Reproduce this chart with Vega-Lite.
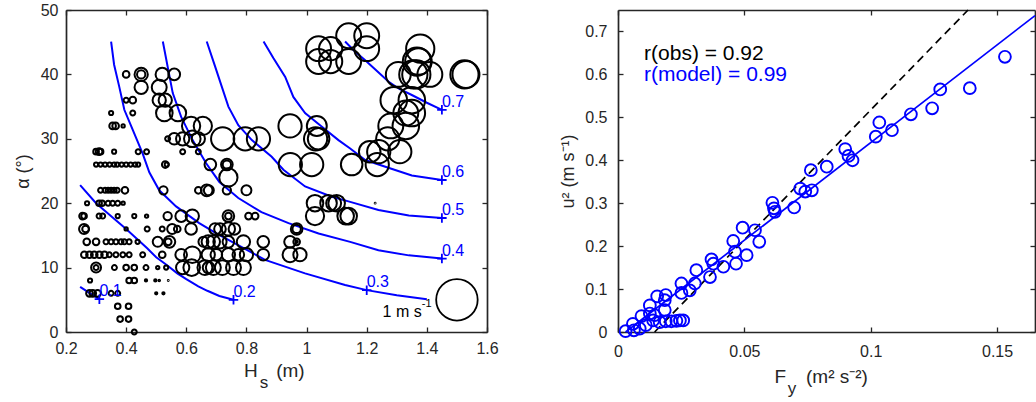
{
  "$schema": "https://vega.github.io/schema/vega-lite/v6.json",
  "autosize": {"type": "pad"},
  "padding": {"left": 14, "top": 2, "right": 0, "bottom": 0},
  "bounds": "flush",
  "spacing": 131,
  "config": {
    "font": "Liberation Sans",
    "view": {"stroke": null},
    "axis": {
      "grid": false,
      "domainColor": "#262626",
      "domainWidth": 1.7,
      "tickColor": "#262626",
      "tickWidth": 1.3,
      "tickSize": -5,
      "labelColor": "#262626",
      "labelFont": "Liberation Sans",
      "labelFontSize": 16,
      "labelPadding": 13,
      "labelFlush": false,
      "labelOverlap": false,
      "titleFont": "Liberation Sans",
      "titleFontSize": 18,
      "titleFontWeight": "normal",
      "titleColor": "#262626"
    }
  },
  "datasets": {
    "obs": [
      {"h":1.14,"a":46,"u":0.60},{"h":1.2,"a":46,"u":0.60},
      {"h":1.04,"a":44,"u":0.60},{"h":1.08,"a":44,"u":0.56},{"h":1.2,"a":44,"u":0.60},{"h":1.378,"a":44,"u":0.68},
      {"h":1.04,"a":42,"u":0.60},{"h":1.08,"a":42,"u":0.56},{"h":1.14,"a":42,"u":0.60},{"h":1.367,"a":42,"u":0.68},{"h":1.372,"a":42,"u":0.64},
      {"h":0.40,"a":40,"u":0.16},{"h":0.45,"a":40,"u":0.32},{"h":0.45,"a":40,"u":0.20},{"h":0.52,"a":40,"u":0.32},{"h":0.56,"a":40,"u":0.28},{"h":1.305,"a":40,"u":0.60},{"h":1.355,"a":40,"u":0.68},{"h":1.365,"a":40,"u":0.68},{"h":1.41,"a":40,"u":0.60},{"h":1.525,"a":40,"u":0.68},{"h":1.53,"a":40,"u":0.65},
      {"h":0.45,"a":38,"u":0.32},{"h":0.51,"a":38,"u":0.36},
      {"h":0.40,"a":36,"u":0.12},{"h":0.422,"a":36,"u":0.16},{"h":0.51,"a":36,"u":0.32},{"h":0.53,"a":36,"u":0.32},{"h":1.29,"a":36,"u":0.64},{"h":1.35,"a":36,"u":0.64},
      {"h":0.35,"a":34,"u":0.10},{"h":0.422,"a":34,"u":0.12},{"h":0.527,"a":34,"u":0.40},{"h":0.572,"a":34,"u":0.40},{"h":1.33,"a":34,"u":0.60},{"h":1.35,"a":34,"u":0.64},
      {"h":0.355,"a":32,"u":0.16},{"h":0.365,"a":32,"u":0.16},{"h":0.39,"a":32,"u":0.08},{"h":0.616,"a":32,"u":0.44},{"h":0.655,"a":32,"u":0.44},{"h":0.945,"a":32,"u":0.56},{"h":1.034,"a":32,"u":0.48},{"h":1.28,"a":32,"u":0.60},{"h":1.33,"a":32,"u":0.64},
      {"h":0.538,"a":30,"u":0.12},{"h":0.56,"a":30,"u":0.28},{"h":0.588,"a":30,"u":0.32},{"h":0.62,"a":30,"u":0.40},{"h":0.64,"a":30,"u":0.32},{"h":0.721,"a":30,"u":0.56},{"h":0.796,"a":30,"u":0.56},{"h":0.84,"a":30,"u":0.56},{"h":1.03,"a":30,"u":0.56},{"h":1.04,"a":30,"u":0.52},{"h":1.27,"a":30,"u":0.56},
      {"h":0.30,"a":28,"u":0.136},{"h":0.31,"a":28,"u":0.16},{"h":0.315,"a":28,"u":0.136},{"h":0.36,"a":28,"u":0.10},{"h":0.44,"a":28,"u":0.12},{"h":0.468,"a":28,"u":0.12},{"h":0.588,"a":28,"u":0.12},{"h":0.64,"a":28,"u":0.12},{"h":1.21,"a":28,"u":0.52},{"h":1.24,"a":28,"u":0.56},{"h":1.31,"a":28,"u":0.56},
      {"h":0.30,"a":26,"u":0.10},{"h":0.315,"a":26,"u":0.10},{"h":0.33,"a":26,"u":0.10},{"h":0.345,"a":26,"u":0.10},{"h":0.36,"a":26,"u":0.10},{"h":0.37,"a":26,"u":0.10},{"h":0.385,"a":26,"u":0.10},{"h":0.40,"a":26,"u":0.10},{"h":0.415,"a":26,"u":0.10},{"h":0.43,"a":26,"u":0.10},{"h":0.44,"a":26,"u":0.10},{"h":0.53,"a":26,"u":0.16},{"h":0.535,"a":26,"u":0.10},{"h":0.68,"a":26,"u":0.28},{"h":0.735,"a":26,"u":0.28},{"h":0.735,"a":26,"u":0.20},{"h":0.946,"a":26,"u":0.56},{"h":1.017,"a":26,"u":0.56},{"h":1.15,"a":26,"u":0.52},{"h":1.235,"a":26,"u":0.56},
      {"h":0.74,"a":24,"u":0.44},
      {"h":0.315,"a":22,"u":0.12},{"h":0.33,"a":22,"u":0.12},{"h":0.34,"a":22,"u":0.12},{"h":0.35,"a":22,"u":0.12},{"h":0.36,"a":22,"u":0.12},{"h":0.37,"a":22,"u":0.12},{"h":0.396,"a":22,"u":0.16},{"h":0.524,"a":22,"u":0.20},{"h":0.64,"a":22,"u":0.16},{"h":0.668,"a":22,"u":0.28},{"h":0.675,"a":22,"u":0.24},{"h":0.735,"a":22,"u":0.20},{"h":0.80,"a":22,"u":0.24},
      {"h":0.27,"a":20,"u":0.10},{"h":0.31,"a":20,"u":0.136},{"h":0.32,"a":20,"u":0.136},{"h":0.34,"a":20,"u":0.12},{"h":0.355,"a":20,"u":0.12},{"h":0.372,"a":20,"u":0.12},{"h":0.39,"a":20,"u":0.08},{"h":1.028,"a":20,"u":0.40},{"h":1.073,"a":20,"u":0.40},{"h":1.1,"a":20,"u":0.40},{"h":1.09,"a":20,"u":0.36},{"h":1.228,"a":20,"u":0.02},
      {"h":0.255,"a":18,"u":0.16},{"h":0.26,"a":18,"u":0.136},{"h":0.31,"a":18,"u":0.12},{"h":0.322,"a":18,"u":0.12},{"h":0.372,"a":18,"u":0.10},{"h":0.427,"a":18,"u":0.10},{"h":0.468,"a":18,"u":0.08},{"h":0.538,"a":18,"u":0.20},{"h":0.583,"a":18,"u":0.28},{"h":0.62,"a":18,"u":0.32},{"h":0.74,"a":18,"u":0.28},{"h":0.74,"a":18,"u":0.16},{"h":0.807,"a":18,"u":0.16},{"h":0.829,"a":18,"u":0.16},{"h":1.028,"a":18,"u":0.44},{"h":1.13,"a":18,"u":0.40},{"h":1.14,"a":18,"u":0.40},
      {"h":0.26,"a":16,"u":0.24},{"h":0.265,"a":16,"u":0.16},{"h":0.40,"a":16,"u":0.08},{"h":0.47,"a":16,"u":0.12},{"h":0.52,"a":16,"u":0.12},{"h":0.553,"a":16,"u":0.24},{"h":0.57,"a":16,"u":0.16},{"h":0.616,"a":16,"u":0.28},{"h":0.696,"a":16,"u":0.28},{"h":0.712,"a":16,"u":0.28},{"h":0.74,"a":16,"u":0.32},{"h":0.76,"a":16,"u":0.28},{"h":0.967,"a":16,"u":0.28},{"h":0.967,"a":16,"u":0.20},
      {"h":0.269,"a":14,"u":0.16},{"h":0.30,"a":14,"u":0.16},{"h":0.333,"a":14,"u":0.12},{"h":0.35,"a":14,"u":0.12},{"h":0.366,"a":14,"u":0.12},{"h":0.383,"a":14,"u":0.12},{"h":0.394,"a":14,"u":0.12},{"h":0.41,"a":14,"u":0.12},{"h":0.438,"a":14,"u":0.10},{"h":0.505,"a":14,"u":0.24},{"h":0.544,"a":14,"u":0.28},{"h":0.54,"a":14,"u":0.16},{"h":0.657,"a":14,"u":0.24},{"h":0.673,"a":14,"u":0.32},{"h":0.69,"a":14,"u":0.32},{"h":0.712,"a":14,"u":0.32},{"h":0.74,"a":14,"u":0.28},{"h":0.79,"a":14,"u":0.32},{"h":0.856,"a":14,"u":0.28},{"h":0.945,"a":14,"u":0.28},{"h":0.967,"a":14,"u":0.16},{"h":0.967,"a":14,"u":0.055},
      {"h":0.261,"a":12,"u":0.16},{"h":0.278,"a":12,"u":0.16},{"h":0.294,"a":12,"u":0.16},{"h":0.311,"a":12,"u":0.16},{"h":0.328,"a":12,"u":0.16},{"h":0.344,"a":12,"u":0.12},{"h":0.366,"a":12,"u":0.12},{"h":0.389,"a":12,"u":0.12},{"h":0.41,"a":12,"u":0.12},{"h":0.455,"a":12,"u":0.12},{"h":0.52,"a":12,"u":0.16},{"h":0.583,"a":12,"u":0.28},{"h":0.62,"a":12,"u":0.40},{"h":0.673,"a":12,"u":0.32},{"h":0.70,"a":12,"u":0.28},{"h":0.74,"a":12,"u":0.32},{"h":0.773,"a":12,"u":0.28},{"h":0.80,"a":12,"u":0.32},{"h":0.856,"a":12,"u":0.28},{"h":0.945,"a":12,"u":0.36},{"h":0.978,"a":12,"u":0.32},
      {"h":0.30,"a":10,"u":0.24},{"h":0.30,"a":10,"u":0.12},{"h":0.361,"a":10,"u":0.12},{"h":0.40,"a":10,"u":0.136},{"h":0.427,"a":10,"u":0.136},{"h":0.466,"a":10,"u":0.12},{"h":0.505,"a":10,"u":0.08},{"h":0.533,"a":10,"u":0.10},{"h":0.588,"a":10,"u":0.32},{"h":0.618,"a":10,"u":0.40},{"h":0.662,"a":10,"u":0.36},{"h":0.674,"a":10,"u":0.28},{"h":0.69,"a":10,"u":0.36},{"h":0.72,"a":10,"u":0.36},{"h":0.757,"a":10,"u":0.36},{"h":0.79,"a":10,"u":0.36},
      {"h":0.28,"a":8,"u":0.10},{"h":0.41,"a":8,"u":0.136},{"h":0.427,"a":8,"u":0.136},{"h":0.466,"a":8,"u":0.055},{"h":0.497,"a":8,"u":0.055},{"h":0.51,"a":8,"u":0.04},{"h":0.54,"a":8,"u":0.02},
      {"h":0.278,"a":6,"u":0.16},{"h":0.289,"a":6,"u":0.16},{"h":0.305,"a":6,"u":0.16},{"h":0.35,"a":6,"u":0.12},{"h":0.372,"a":6,"u":0.12},{"h":0.50,"a":6,"u":0.055},{"h":0.524,"a":6,"u":0.055},
      {"h":0.372,"a":4,"u":0.136},{"h":0.408,"a":4,"u":0.136},
      {"h":0.38,"a":2,"u":0.136},{"h":0.408,"a":2,"u":0.136},
      {"h":0.427,"a":0,"u":0.12}
    ],
    "contours": [
      {"lvl":"0.1","h":0.247,"a":7.0},{"lvl":"0.1","h":0.28,"a":6.0},{"lvl":"0.1","h":0.311,"a":5.1},
      {"lvl":"0.2","h":0.247,"a":22.8},{"lvl":"0.2","h":0.30,"a":20.0},{"lvl":"0.2","h":0.33,"a":18.8},{"lvl":"0.2","h":0.36,"a":17.6},{"lvl":"0.2","h":0.40,"a":16.0},{"lvl":"0.2","h":0.44,"a":14.3},{"lvl":"0.2","h":0.47,"a":13.0},{"lvl":"0.2","h":0.50,"a":11.6},{"lvl":"0.2","h":0.535,"a":10.4},{"lvl":"0.2","h":0.57,"a":9.1},{"lvl":"0.2","h":0.60,"a":8.2},{"lvl":"0.2","h":0.64,"a":7.1},{"lvl":"0.2","h":0.67,"a":6.4},{"lvl":"0.2","h":0.71,"a":5.6},{"lvl":"0.2","h":0.757,"a":5.0},
      {"lvl":"0.3","h":0.35,"a":45.1},{"lvl":"0.3","h":0.36,"a":41.5},{"lvl":"0.3","h":0.377,"a":38.1},{"lvl":"0.3","h":0.394,"a":34.5},{"lvl":"0.3","h":0.422,"a":31.4},{"lvl":"0.3","h":0.455,"a":27.7},{"lvl":"0.3","h":0.477,"a":24.8},{"lvl":"0.3","h":0.51,"a":22.0},{"lvl":"0.3","h":0.566,"a":19.5},{"lvl":"0.3","h":0.643,"a":16.9},{"lvl":"0.3","h":0.70,"a":15.3},{"lvl":"0.3","h":0.78,"a":13.3},{"lvl":"0.3","h":0.862,"a":11.2},{"lvl":"0.3","h":0.995,"a":9.1},{"lvl":"0.3","h":1.128,"a":7.3},{"lvl":"0.3","h":1.2,"a":6.5},{"lvl":"0.3","h":1.30,"a":5.7},{"lvl":"0.3","h":1.40,"a":5.1},
      {"lvl":"0.4","h":0.522,"a":45.1},{"lvl":"0.4","h":0.538,"a":41.2},{"lvl":"0.4","h":0.555,"a":37.1},{"lvl":"0.4","h":0.583,"a":33.4},{"lvl":"0.4","h":0.621,"a":29.8},{"lvl":"0.4","h":0.666,"a":26.2},{"lvl":"0.4","h":0.71,"a":23.3},{"lvl":"0.4","h":0.773,"a":20.8},{"lvl":"0.4","h":0.85,"a":18.6},{"lvl":"0.4","h":0.94,"a":16.9},{"lvl":"0.4","h":1.04,"a":15.3},{"lvl":"0.4","h":1.145,"a":14.0},{"lvl":"0.4","h":1.239,"a":12.7},{"lvl":"0.4","h":1.34,"a":11.9},{"lvl":"0.4","h":1.45,"a":11.4},
      {"lvl":"0.5","h":0.668,"a":45.1},{"lvl":"0.5","h":0.696,"a":41.2},{"lvl":"0.5","h":0.718,"a":38.1},{"lvl":"0.5","h":0.74,"a":35.0},{"lvl":"0.5","h":0.773,"a":32.1},{"lvl":"0.5","h":0.818,"a":29.8},{"lvl":"0.5","h":0.884,"a":27.2},{"lvl":"0.5","h":0.923,"a":25.2},{"lvl":"0.5","h":0.995,"a":22.6},{"lvl":"0.5","h":1.084,"a":21.0},{"lvl":"0.5","h":1.145,"a":20.2},{"lvl":"0.5","h":1.239,"a":18.95},{"lvl":"0.5","h":1.34,"a":18.1},{"lvl":"0.5","h":1.45,"a":17.7},
      {"lvl":"0.6","h":0.857,"a":45.1},{"lvl":"0.6","h":0.89,"a":42.5},{"lvl":"0.6","h":0.929,"a":39.6},{"lvl":"0.6","h":0.956,"a":36.5},{"lvl":"0.6","h":0.995,"a":34.0},{"lvl":"0.6","h":1.05,"a":31.9},{"lvl":"0.6","h":1.106,"a":29.8},{"lvl":"0.6","h":1.145,"a":28.5},{"lvl":"0.6","h":1.195,"a":26.7},{"lvl":"0.6","h":1.272,"a":25.5},{"lvl":"0.6","h":1.35,"a":24.3},{"lvl":"0.6","h":1.45,"a":23.6},
      {"lvl":"0.7","h":1.128,"a":45.1},{"lvl":"0.7","h":1.16,"a":43.6},{"lvl":"0.7","h":1.195,"a":42.2},{"lvl":"0.7","h":1.235,"a":40.5},{"lvl":"0.7","h":1.272,"a":38.9},{"lvl":"0.7","h":1.31,"a":37.7},{"lvl":"0.7","h":1.35,"a":36.8},{"lvl":"0.7","h":1.40,"a":35.6},{"lvl":"0.7","h":1.45,"a":34.5}
    ],
    "clabels": [
      {"lvl":"0.1","h":0.311,"a":5.1},
      {"lvl":"0.2","h":0.757,"a":5.0},
      {"lvl":"0.3","h":1.2,"a":6.5},
      {"lvl":"0.4","h":1.45,"a":11.4},
      {"lvl":"0.5","h":1.45,"a":17.7},
      {"lvl":"0.6","h":1.45,"a":23.6},
      {"lvl":"0.7","h":1.45,"a":34.5}
    ],
    "pts": [
      {"f":0.0030,"u2":0.002},{"f":0.0059,"u2":0.019},{"f":0.0063,"u2":0.004},{"f":0.0086,"u2":0.008},{"f":0.0093,"u2":0.037},{"f":0.011,"u2":0.016},
      {"f":0.0126,"u2":0.062},{"f":0.0126,"u2":0.043},{"f":0.0139,"u2":0.027},{"f":0.0145,"u2":0.039},{"f":0.0155,"u2":0.083},{"f":0.0165,"u2":0.023},
      {"f":0.0185,"u2":0.051},{"f":0.0189,"u2":0.086},{"f":0.0185,"u2":0.074},{"f":0.0189,"u2":0.025},{"f":0.0211,"u2":0.025},{"f":0.0231,"u2":0.026},
      {"f":0.0245,"u2":0.027},{"f":0.0258,"u2":0.027},{"f":0.0251,"u2":0.113},{"f":0.0251,"u2":0.091},{"f":0.0284,"u2":0.097},{"f":0.031,"u2":0.144},
      {"f":0.0304,"u2":0.113},{"f":0.0364,"u2":0.128},{"f":0.0370,"u2":0.169},{"f":0.0377,"u2":0.159},{"f":0.0417,"u2":0.152},{"f":0.0456,"u2":0.212},
      {"f":0.0463,"u2":0.187},{"f":0.0467,"u2":0.159},{"f":0.0493,"u2":0.243},{"f":0.0509,"u2":0.179},{"f":0.0542,"u2":0.237},{"f":0.0559,"u2":0.210},
      {"f":0.0611,"u2":0.301},{"f":0.0617,"u2":0.288},{"f":0.0621,"u2":0.280},{"f":0.0697,"u2":0.290},{"f":0.0721,"u2":0.334},{"f":0.0741,"u2":0.327},
      {"f":0.0767,"u2":0.330},{"f":0.0763,"u2":0.377},{"f":0.0826,"u2":0.385},{"f":0.0899,"u2":0.426},{"f":0.0912,"u2":0.410},{"f":0.0928,"u2":0.400},
      {"f":0.102,"u2":0.455},{"f":0.1034,"u2":0.488},{"f":0.1084,"u2":0.470},{"f":0.1159,"u2":0.507},{"f":0.1243,"u2":0.521},{"f":0.1275,"u2":0.565},
      {"f":0.1392,"u2":0.568},{"f":0.1531,"u2":0.641}
    ],
    "fit": [{"f":0.003,"u2":0.0},{"f":0.165,"u2":0.737}],
    "oneone": [{"f":0.0145,"u2":0.0},{"f":0.1385,"u2":0.75}]
  },
  "hconcat": [
    {
      "width": 421,
      "height": 322,
      "layer": [
        {
          "layer": [
            {
              "data": {"name": "contours"},
              "mark": {"type": "line", "color": "#0000ff", "strokeWidth": 2},
              "encoding": {
                "x": {"field": "h", "type": "quantitative", "scale": {"domain": [0.2, 1.6], "nice": false, "zero": false},
                      "axis": {"orient": "bottom", "title": null, "values": [0.2,0.4,0.6,0.8,1,1.2,1.4,1.6], "format": "~g"}},
                "y": {"field": "a", "type": "quantitative", "scale": {"domain": [0, 50], "nice": false},
                      "axis": {"orient": "left", "title": "α (°)", "values": [0,10,20,30,40,50], "titlePadding": 8}},
                "detail": {"field": "lvl"}
              }
            },
            {
              "data": {"name": "obs"},
              "mark": {"type": "point", "shape": "circle", "filled": false, "stroke": "#000000", "strokeWidth": 2, "opacity": 1},
              "encoding": {
                "x": {"field": "h", "type": "quantitative"},
                "y": {"field": "a", "type": "quantitative"},
                "size": {"field": "u", "type": "quantitative", "scale": {"type": "pow", "exponent": 2, "domain": [0, 1], "range": [0, 1722]}, "legend": null}
              }
            },
            {
              "data": {"values": [{"u": 1}]},
              "mark": {"type": "point", "shape": "circle", "filled": false, "stroke": "#000000", "strokeWidth": 1.8, "opacity": 1},
              "encoding": {
                "x": {"datum": 1.5},
                "y": {"datum": 5.0},
                "size": {"field": "u", "type": "quantitative"}
              }
            },
            {
              "data": {"name": "clabels"},
              "mark": {"type": "point", "shape": "M-1,0H1M0,-1V1", "filled": false, "stroke": "#0000ff", "strokeWidth": 1.8, "size": 90, "opacity": 1},
              "encoding": {
                "x": {"field": "h", "type": "quantitative"},
                "y": {"field": "a", "type": "quantitative"}
              }
            },
            {
              "data": {"name": "clabels"},
              "mark": {"type": "text", "color": "#0000ff", "fontSize": 16, "align": "left", "baseline": "alphabetic", "dx": 0, "dy": -3},
              "encoding": {
                "x": {"field": "h", "type": "quantitative"},
                "y": {"field": "a", "type": "quantitative"},
                "text": {"field": "lvl"}
              }
            },
            {
              "data": {"values": [{"t": "1 m s"}]},
              "mark": {"type": "text", "color": "#000000", "fontSize": 16, "align": "right", "baseline": "alphabetic"},
              "encoding": {"x": {"datum": 1.383}, "y": {"datum": 2.3}, "text": {"field": "t"}}
            },
            {
              "data": {"values": [{"t": "-1"}]},
              "mark": {"type": "text", "color": "#000000", "fontSize": 11, "align": "left", "baseline": "alphabetic"},
              "encoding": {"x": {"datum": 1.383}, "y": {"datum": 3.9}, "text": {"field": "t"}}
            },
            {
              "data": {"values": [{"t": "H"}]},
              "mark": {"type": "text", "color": "#262626", "fontSize": 19, "align": "right", "baseline": "alphabetic"},
              "encoding": {"x": {"datum": 0.838}, "y": {"datum": -7.0}, "text": {"field": "t"}}
            },
            {
              "data": {"values": [{"t": "s"}]},
              "mark": {"type": "text", "color": "#262626", "fontSize": 17, "align": "left", "baseline": "alphabetic"},
              "encoding": {"x": {"datum": 0.844}, "y": {"datum": -8.7}, "text": {"field": "t"}}
            },
            {
              "data": {"values": [{"t": "(m)"}]},
              "mark": {"type": "text", "color": "#262626", "fontSize": 19, "align": "left", "baseline": "alphabetic"},
              "encoding": {"x": {"datum": 0.899}, "y": {"datum": -7.0}, "text": {"field": "t"}}
            }
          ]
        },
        {
          "data": {"values": [{"h": 1.0, "a": 25}]},
          "mark": {"type": "point", "opacity": 0},
          "encoding": {
            "x": {"field": "h", "type": "quantitative", "scale": {"domain": [0.2, 1.6], "nice": false, "zero": false},
                  "axis": {"orient": "top", "title": null, "labels": false, "values": [0.2,0.4,0.6,0.8,1,1.2,1.4,1.6]}},
            "y": {"field": "a", "type": "quantitative", "scale": {"domain": [0, 50], "nice": false},
                  "axis": {"orient": "right", "title": null, "labels": false, "values": [0,10,20,30,40,50]}}
          }
        }
      ],
      "resolve": {"axis": {"x": "independent", "y": "independent"}}
    },
    {
      "width": 417,
      "height": 322,
      "layer": [
        {
          "layer": [
            {
              "data": {"name": "oneone"},
              "mark": {"type": "line", "color": "#000000", "strokeWidth": 1.7, "strokeDash": [8, 5]},
              "encoding": {
                "x": {"field": "f", "type": "quantitative", "scale": {"domain": [0, 0.165], "nice": false},
                      "axis": {"orient": "bottom", "title": null, "values": [0, 0.05, 0.1, 0.15], "format": "~g", "labelPadding": 16}},
                "y": {"field": "u2", "type": "quantitative", "scale": {"domain": [0, 0.75], "nice": false},
                      "axis": {"orient": "left", "title": "u² (m s⁻¹)", "values": [0,0.1,0.2,0.3,0.4,0.5,0.6,0.7], "format": "~g", "labelPadding": 16, "titlePadding": 7}}
              }
            },
            {
              "data": {"name": "fit"},
              "mark": {"type": "line", "color": "#0000ff", "strokeWidth": 1.7},
              "encoding": {
                "x": {"field": "f", "type": "quantitative"},
                "y": {"field": "u2", "type": "quantitative"}
              }
            },
            {
              "data": {"name": "pts"},
              "mark": {"type": "point", "shape": "circle", "filled": false, "stroke": "#0000ff", "strokeWidth": 1.9, "size": 140, "opacity": 1},
              "encoding": {
                "x": {"field": "f", "type": "quantitative"},
                "y": {"field": "u2", "type": "quantitative"}
              }
            },
            {
              "data": {"values": [{"t": "r(obs) = 0.92"}]},
              "mark": {"type": "text", "color": "#000000", "fontSize": 21, "align": "left", "baseline": "alphabetic"},
              "encoding": {"x": {"datum": 0.0103}, "y": {"datum": 0.634}, "text": {"field": "t"}}
            },
            {
              "data": {"values": [{"t": "r(model) = 0.99"}]},
              "mark": {"type": "text", "color": "#0000ff", "fontSize": 21, "align": "left", "baseline": "alphabetic"},
              "encoding": {"x": {"datum": 0.0103}, "y": {"datum": 0.584}, "text": {"field": "t"}}
            },
            {
              "data": {"values": [{"t": "F"}]},
              "mark": {"type": "text", "color": "#262626", "fontSize": 19, "align": "right", "baseline": "alphabetic"},
              "encoding": {"x": {"datum": 0.0665}, "y": {"datum": -0.1196}, "text": {"field": "t"}}
            },
            {
              "data": {"values": [{"t": "y"}]},
              "mark": {"type": "text", "color": "#262626", "fontSize": 17, "align": "left", "baseline": "alphabetic"},
              "encoding": {"x": {"datum": 0.0672}, "y": {"datum": -0.1452}, "text": {"field": "t"}}
            },
            {
              "data": {"values": [{"t": "(m² s⁻²)"}]},
              "mark": {"type": "text", "color": "#262626", "fontSize": 19, "align": "left", "baseline": "alphabetic"},
              "encoding": {"x": {"datum": 0.0744}, "y": {"datum": -0.1196}, "text": {"field": "t"}}
            }
          ]
        },
        {
          "data": {"values": [{"f": 0.05, "u2": 0.3}]},
          "mark": {"type": "point", "opacity": 0},
          "encoding": {
            "x": {"field": "f", "type": "quantitative", "scale": {"domain": [0, 0.165], "nice": false},
                  "axis": {"orient": "top", "title": null, "labels": false, "values": [0, 0.05, 0.1, 0.15]}},
            "y": {"field": "u2", "type": "quantitative", "scale": {"domain": [0, 0.75], "nice": false},
                  "axis": {"orient": "right", "title": null, "labels": false, "values": [0,0.1,0.2,0.3,0.4,0.5,0.6,0.7]}}
          }
        }
      ],
      "resolve": {"axis": {"x": "independent", "y": "independent"}}
    }
  ]
}
